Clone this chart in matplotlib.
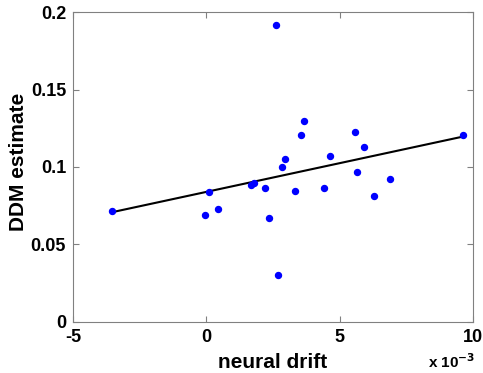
import numpy as np
import matplotlib
matplotlib.use("Agg")
from matplotlib import pyplot as plt

# neural drift (x 1e-3) and DDM drift estimate
neural_drift = [-3.53, -0.06, 0.09, 0.44, 1.69, 1.77, 2.20, 2.35, 2.62, 2.70, 2.84, 2.95,
                3.32, 3.54, 3.66, 4.40, 4.64, 5.59, 5.65, 5.90, 6.27, 6.87, 9.64]
ddm_estimate = [0.0714, 0.0690, 0.0838, 0.0730, 0.0884, 0.0899, 0.0862, 0.0668, 0.1920,
                0.0304, 0.1000, 0.1050, 0.0845, 0.1209, 0.1297, 0.0862, 0.1069, 0.1226,
                0.0966, 0.1129, 0.0812, 0.0924, 0.1207]
xticks = [-5, 0, 5, 10]
yticks = [0, 0.05, 0.1, 0.15, 0.2]
yticklabels = ["0", "0.05", "0.1", "0.15", "0.2"]

plt.rcParams['font.family'] = ['Liberation Sans', 'DejaVu Sans']
plt.rcParams['font.weight'] = 'bold'
plt.rcParams['axes.unicode_minus'] = False

fig = plt.figure(figsize=(4.83, 3.73), dpi=100)
ax = fig.add_axes([73 / 483, 1 - 321.7 / 373, 400 / 483, 309.4 / 373])

x = np.array(neural_drift)
y = np.array(ddm_estimate)
slope, icpt = np.polyfit(x, y, 1)
xl = np.array([x.min(), x.max()])
ax.plot(xl, slope * xl + icpt, color='black', lw=1.5)
ax.plot(x, y, 'o', color='#0000ff', ms=4.3, mec='#0000ff')

ax.set_xlim(-5, 10)
ax.set_ylim(0, 0.2)
ax.set_xticks(xticks)
ax.set_yticks(yticks)
ax.set_yticklabels(yticklabels)
for s in ax.spines.values():
    s.set_color('#808080')
    s.set_linewidth(0.8)
ax.tick_params(direction='in', length=4, color='#808080', top=True, right=True,
               labelsize=13)
ax.tick_params(axis='x', pad=5)
ax.tick_params(axis='y', pad=5)
for lab in ax.get_xticklabels() + ax.get_yticklabels():
    lab.set_fontweight('bold')

ax.set_xlabel('neural drift', fontsize=15, fontweight='bold', labelpad=5)
ax.set_ylabel('DDM estimate', fontsize=15, fontweight='bold')
ax.yaxis.set_label_coords(-0.112, 0.518)
fig.text(0.886, 0.013, r'x 10$^{\mathbf{-3}}$', fontsize=11, fontweight='bold', ha='left')

fig.savefig('out.png', dpi=100)
